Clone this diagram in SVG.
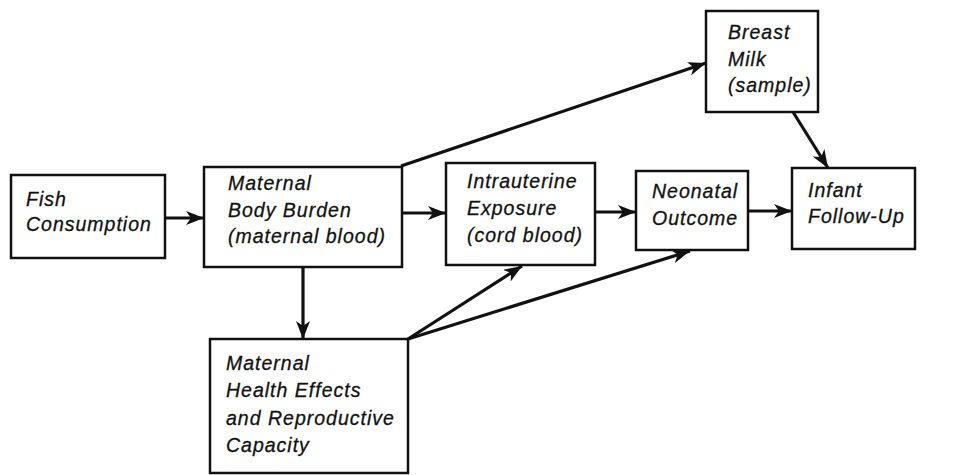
<svg xmlns="http://www.w3.org/2000/svg" width="969" height="475" viewBox="0 0 969 475">
<defs>
<marker id="ah" markerUnits="userSpaceOnUse" markerWidth="20" markerHeight="14" refX="18" refY="7" orient="auto">
<path d="M0,0 L18,7 L0,14 L5,7 Z" fill="#111"/>
</marker>
<style>
.box{fill:#fff;stroke:#111;stroke-width:2.5}
.t{font-family:"Liberation Sans",Arial,sans-serif;font-style:italic;font-size:19.5px;letter-spacing:1px;fill:#111;stroke:#111;stroke-width:0.3}
.c{stroke:#111;stroke-width:3.2;fill:none;marker-end:url(#ah)}
</style>
</defs>
<rect width="969" height="475" fill="#fff"/>
<g id="connectors">
<line class="c" x1="165" y1="218" x2="204" y2="218"/>
<line class="c" x1="402" y1="213" x2="446" y2="213"/>
<line class="c" x1="595" y1="212" x2="636" y2="212"/>
<line class="c" x1="748" y1="211" x2="792" y2="211"/>
<line class="c" x1="401" y1="166" x2="706" y2="63"/>
<line class="c" x1="793" y1="112" x2="828" y2="168"/>
<line class="c" x1="303" y1="267" x2="303" y2="339"/>
<line class="c" x1="408" y1="339" x2="522" y2="266"/>
<line class="c" x1="408" y1="339" x2="690" y2="251"/>
</g>
<g id="fish">
<rect class="box" x="11" y="175" width="154" height="83"/>
<text class="t" x="26" y="206">Fish</text>
<text class="t" x="26" y="231">Consumption</text>
</g>
<g id="mbb">
<rect class="box" x="204" y="167" width="198" height="100"/>
<text class="t" x="228" y="190">Maternal</text>
<text class="t" x="228" y="217">Body Burden</text>
<text class="t" x="228" y="243">(maternal blood)</text>
</g>
<g id="milk">
<rect class="box" x="706" y="11" width="112" height="101"/>
<text class="t" x="728" y="39">Breast</text>
<text class="t" x="728" y="66">Milk</text>
<text class="t" x="728" y="92">(sample)</text>
</g>
<g id="intra">
<rect class="box" x="446" y="163" width="149" height="102"/>
<text class="t" x="467" y="188">Intrauterine</text>
<text class="t" x="467" y="215">Exposure</text>
<text class="t" x="467" y="242">(cord blood)</text>
</g>
<g id="neo">
<rect class="box" x="636" y="171" width="112" height="79"/>
<text class="t" x="652" y="198">Neonatal</text>
<text class="t" x="652" y="225">Outcome</text>
</g>
<g id="infant">
<rect class="box" x="792" y="168" width="123" height="81"/>
<text class="t" x="808" y="197">Infant</text>
<text class="t" x="808" y="223">Follow-Up</text>
</g>
<g id="mh">
<rect class="box" x="210" y="339" width="198" height="134"/>
<text class="t" x="226" y="370">Maternal</text>
<text class="t" x="226" y="397">Health Effects</text>
<text class="t" x="226" y="425">and Reproductive</text>
<text class="t" x="226" y="452">Capacity</text>
</g>
</svg>
